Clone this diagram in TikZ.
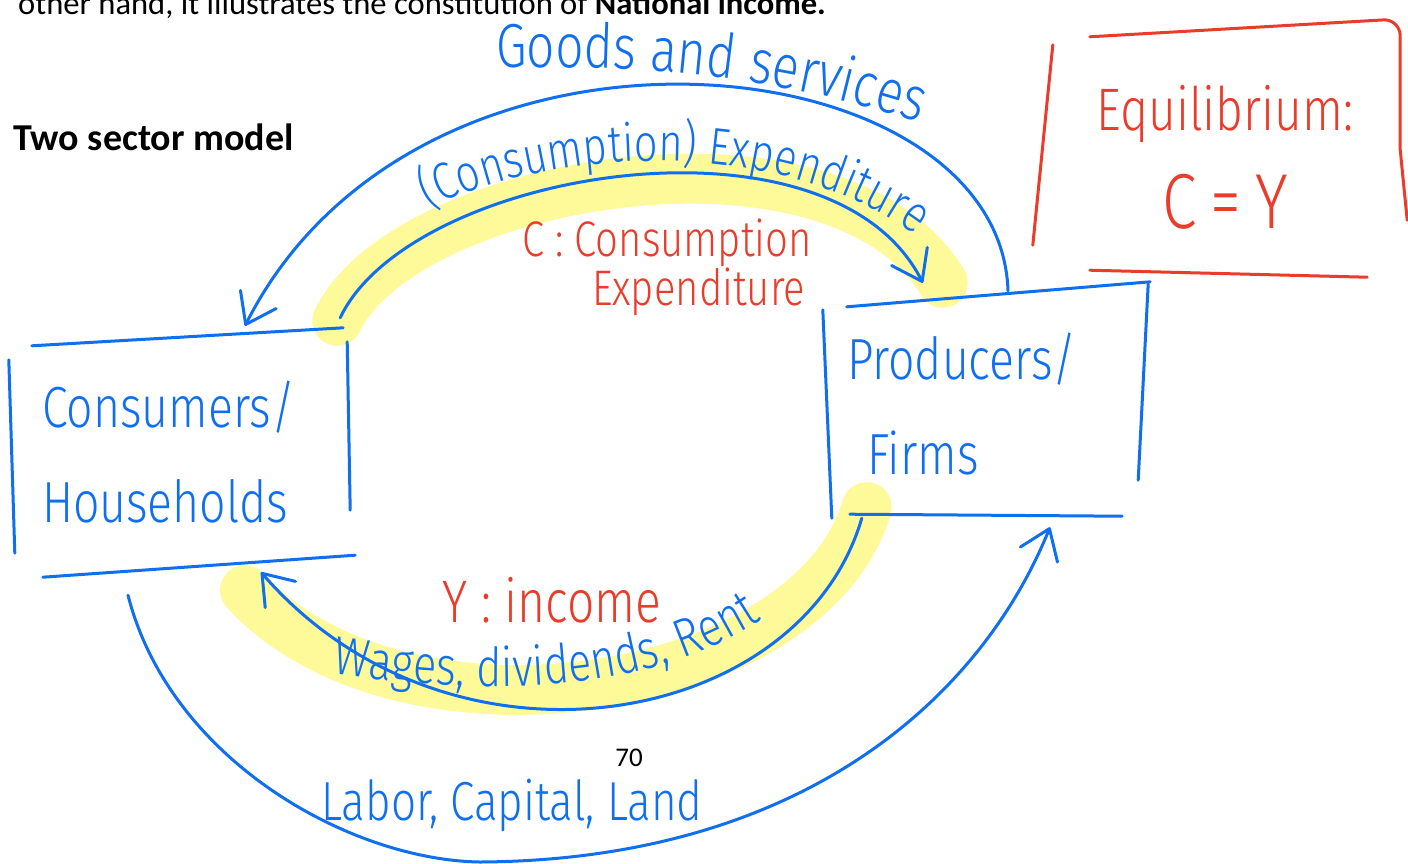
\documentclass[tikz,border=0pt]{standalone}
\usepackage{fontspec}
\setmainfont{Carlito}
\IfFontExistsTF{Fira Sans Light}
  {\newfontfamily\handfont[FakeStretch=0.8]{Fira Sans Light}}
  {\newfontfamily\handfont[FakeStretch=0.8]{Fira Sans}}
\usetikzlibrary{arrows.meta, calc, decorations.text, backgrounds, positioning}
\definecolor{penblue}{HTML}{0F6FEF}
\definecolor{penred}{HTML}{E93C2A}
\definecolor{marker}{HTML}{FFFA99}
\tikzset{
  >={Straight Barb[length=28pt,width=40pt,round]},
  % pen strokes
  pen/.style={line width=3pt,line cap=round,line join=round},
  stroke blue/.style={pen,draw=penblue},
  stroke red/.style={pen,draw=penred},
  flow/.style={stroke blue,->},
  highlight/.style={draw=marker,line width=50pt,line cap=round},
  % handwritten text
  hand/.style={font=\handfont\fontsize{#1}{#1}\selectfont,inner sep=0pt},
  sector/.style={font=\handfont\fontsize{58}{95}\selectfont,text=penblue,align=left,inner sep=0pt},
  note red/.style={text=penred,align=left}
}

\begin{document}
\begin{tikzpicture}[x=1pt,y=-1pt]
  \useasboundingbox (0,0) rectangle (1408,863);
  % printed page text
  \node[anchor=base west,inner sep=0pt,font=\fontsize{32.6}{36}\selectfont] (intro) at (18,14)
    {other hand, it illustrates the constitution of \textbf{National income.}};
  \node[anchor=base west,inner sep=0pt,font=\bfseries\fontsize{38}{44}\selectfont] (title) at (13,150)
    {Two sector model};
  \node[inner sep=0pt,font=\fontsize{27}{30}\selectfont] (page) at (629,758) {70};

  % the two sectors and the note
  \node[sector,minimum width=340pt,minimum height=230pt,text width=278pt] (hh) at (181,452)
    {Consumers/\\Households};
  \node[sector,minimum width=320pt,minimum height=224pt,text width=276pt] (firms) at (985,404)
    {Producers/\\\hspace*{20pt}Firms};
  \node[sector,text=penred,align=center,minimum width=360pt,minimum height=240pt,
        font=\handfont\fontsize{60}{98}\selectfont] (eq) at (1225,157)
    {Equilibrium:\\{\fontsize{78}{98}\selectfont C\hspace{14pt}=\hspace{14pt}Y}};

  % sketched box outlines
  \draw[stroke blue] ($(hh.north west)+(21,9)$) -- ($(hh.north east)+(-8,-9)$);
  \draw[stroke blue] ($(hh.north west)+(-2,23)$) -- ($(hh.south west)+(4,-14)$);
  \draw[stroke blue] ($(hh.north east)+(-4,5)$) -- ($(hh.south east)+(-1,-57)$);
  \draw[stroke blue] ($(hh.south west)+(32,10)$) -- ($(hh.south east)+(4,-12)$);
  \draw[stroke blue] ($(firms.north west)+(22,15)$) -- ($(firms.north east)+(5,-10)$);
  \draw[stroke blue] ($(firms.north west)+(-2,18)$) -- ($(firms.south west)+(7,2)$);
  \draw[stroke blue] ($(firms.north east)+(3,-8)$) -- ($(firms.south east)+(-7,-36)$);
  \draw[stroke blue] ($(firms.south west)+(25,-2)$) -- ($(firms.south east)+(-23,0)$);
  \draw[stroke red] ($(eq.north west)+(8,8)$) -- ($(eq.south west)+(-12,-32)$);
  \draw[stroke red] ($(eq.north west)+(45,0)$) -- ($(eq.north east)+(-20,-17)$)
    to[bend left=40] ($(eq.north east)+(-5,-2)$) -- ($(eq.north east)+(-5,113)$)
    -- ($(eq.south east)+(2,-57)$);
  \draw[stroke red] ($(eq.south west)+(45,-7)$) -- ($(eq.south east)+(-38,0)$);

  % marker under the money flows
  \begin{scope}[on background layer]
    \fill[white] (0,0) rectangle (1408,863);
    \draw[highlight] ($(hh.north east)+(-14,-16)$) .. controls (405,180) and (835,105)
      .. ($(firms.north west)+(118,-9)$);
    \draw[highlight] ($(hh.south)+(64,23)$) .. controls (400,760) and (810,700)
      .. ($(firms.south west)+(42,-9)$);
  \end{scope}

  % flows
  \draw[flow] ($(firms.north)+(23,-1)$) .. controls (1000,40) and (420,-20) .. ($(hh.north)+(64,-11)$);
  \draw[flow] ($(hh.north east)+(-11,-19)$) .. controls (410,170) and (830,100) .. ($(firms.north west)+(98,-9)$);
  \draw[flow] ($(firms.south west)+(37,2)$) .. controls (800,730) and (450,790) .. ($(hh.south)+(80,5)$);
  \draw[flow] ($(hh.south)+(-53,28)$) .. controls (170,760) and (350,860) .. (480,862)
    .. controls (800,860) and (980,700) .. ($(firms.south)+(65,11)$);

  % flow labels
  \path[decorate,decoration={text along path,text align=center,text color=penblue,
    text={|\handfont\fontsize{62}{62}\selectfont|Goods and services}}]
    (480,68) .. controls (620,66) and (760,68) .. (935,128);
  \path[decorate,decoration={text along path,text align=center,text color=penblue,
    text={|\handfont\fontsize{52}{52}\selectfont|(Consumption) Expenditure}}]
    (425,210) .. controls (560,143) and (790,138) .. (918,238);
  \path[decorate,decoration={text along path,text align=center,text color=penblue,
    text={|\handfont\fontsize{54}{54}\selectfont|Wages, dividends, Rent}}]
    (320,672) .. controls (480,695) and (650,700) .. (772,612);
  \node[hand=55,text=penblue] (factors) at (512,805) {Labor, Capital, Land};
  \node[hand=50,note red,font=\handfont\fontsize{50}{45}\selectfont] (cexp) at (667,267)
    {C : Consumption\\\hspace*{70pt}Expenditure};
  \node[hand=60,text=penred] (income) at (552,600) {Y : income};
\end{tikzpicture}
\end{document}
